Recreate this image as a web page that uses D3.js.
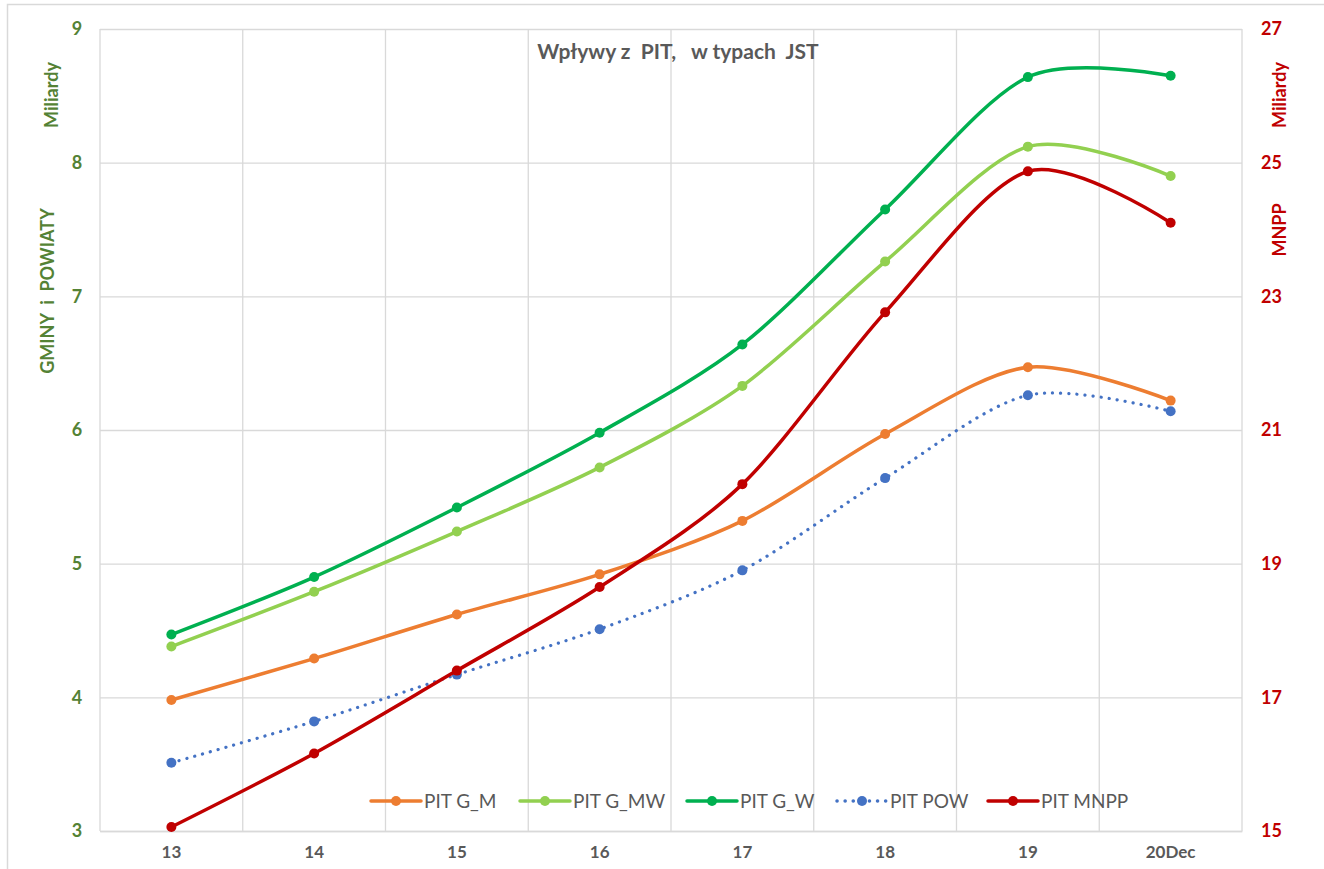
<!DOCTYPE html>
<html>
<head>
<meta charset="utf-8">
<script src="https://cdn.jsdelivr.net/npm/d3@7"></script>
<style>
  body { margin: 0; background: #fff; }
  text { font-family: Lato, "Open Sans", sans-serif; }
</style>
</head>
<body>
<script>
var width = 1324,
    height = 869;

// dane
var categories = ["13", "14", "15", "16", "17", "18", "19", "20Dec"];
var pitGM   = [3.98, 4.29, 4.62, 4.92, 5.32, 5.97, 6.47, 6.22];
var pitGMW  = [4.38, 4.79, 5.24, 5.72, 6.33, 7.26, 8.12, 7.90];
var pitGW   = [4.47, 4.90, 5.42, 5.98, 6.64, 7.65, 8.64, 8.65];
var pitPOW  = [3.51, 3.82, 4.17, 4.51, 4.95, 5.64, 6.26, 6.14];
var pitMNPP = [15.06, 16.16, 17.40, 18.65, 20.19, 22.76, 24.87, 24.10];
var leftTicks = [3, 4, 5, 6, 7, 8, 9];
var rightTicks = [15, 17, 19, 21, 23, 25, 27];

var series = [
  { name: "PIT G_M",  values: pitGM,   color: "#ED7D31", axis: "left" },
  { name: "PIT G_MW", values: pitGMW,  color: "#92D050", axis: "left" },
  { name: "PIT G_W",  values: pitGW,   color: "#00B050", axis: "left" },
  { name: "PIT POW",  values: pitPOW,  color: "#4472C4", axis: "left", dotted: true },
  { name: "PIT MNPP", values: pitMNPP, color: "#C00000", axis: "right" }
];

var plot = { left: 100, right: 1242, top: 29, bottom: 831 };

var svg = d3.select("body").append("svg")
    .attr("width", width)
    .attr("height", height);

// ramka wykresu
svg.append("rect")
    .attr("x", 7.5).attr("y", 4.5)
    .attr("width", width + 10).attr("height", height + 10)
    .attr("fill", "#fff")
    .attr("stroke", "#d9d9d9")
    .attr("stroke-width", 1.5);

var x = d3.scaleBand()
    .domain(categories)
    .range([plot.left, plot.right]);

var yL = d3.scaleLinear().domain([3, 9]).range([plot.bottom, plot.top]);
var yR = d3.scaleLinear().domain([15, 27]).range([plot.bottom, plot.top]);

// siatka pozioma
svg.append("g")
    .attr("transform", "translate(" + plot.left + ",0)")
    .call(d3.axisLeft(yL).tickValues(leftTicks).tickSize(-(plot.right - plot.left)).tickFormat(""))
    .call(function(g) { g.select(".domain").remove(); })
    .selectAll("line").attr("stroke", "#d9d9d9").attr("stroke-width", 1.3);

// siatka pionowa
var vlines = categories.map(function(c) { return x(c); }).concat([plot.right]);
svg.append("g").selectAll("line")
    .data(vlines)
  .enter().append("line")
    .attr("x1", function(d) { return d; })
    .attr("x2", function(d) { return d; })
    .attr("y1", plot.top)
    .attr("y2", plot.bottom)
    .attr("stroke", "#d9d9d9")
    .attr("stroke-width", 1.3);

// os X
var xAxis = svg.append("g")
    .attr("transform", "translate(0," + plot.bottom + ")")
    .call(d3.axisBottom(x).tickSize(0).tickPadding(15));
xAxis.select(".domain").attr("stroke", "#d9d9d9").attr("stroke-width", 1.5);
xAxis.selectAll("text")
    .attr("fill", "#595959")
    .style("font-size", "17px")
    .style("font-weight", "bold");

// os lewa
var leftAxis = svg.append("g")
    .attr("transform", "translate(" + plot.left + ",0)")
    .call(d3.axisLeft(yL).tickValues(leftTicks).tickSize(0).tickPadding(23).tickFormat(d3.format("d")));
leftAxis.select(".domain").remove();
leftAxis.selectAll("text")
    .attr("fill", "#548235")
    .style("font-size", "18px")
    .style("font-weight", "bold")
    .attr("text-anchor", "middle");

// os prawa
var rightAxis = svg.append("g")
    .attr("transform", "translate(" + plot.right + ",0)")
    .call(d3.axisRight(yR).tickValues(rightTicks).tickSize(0).tickPadding(19));
rightAxis.select(".domain").remove();
rightAxis.selectAll("text")
    .attr("fill", "#C00000")
    .style("font-size", "18px")
    .style("font-weight", "bold");

// tytuly osi
function vlabel(txt, cx, cy, col) {
  svg.append("text")
      .attr("transform", "translate(" + cx + "," + cy + ") rotate(-90)")
      .attr("text-anchor", "middle")
      .attr("dy", "0.35em")
      .attr("fill", col)
      .attr("xml:space", "preserve")
      .style("font-size", "18px")
      .style("font-weight", "bold")
      .text(txt);
}
vlabel("Miliardy", 52, 95, "#548235");
vlabel("GMINY  i  POWIATY", 48, 291, "#548235");
vlabel("Miliardy", 1280, 95, "#C00000");
vlabel("MNPP", 1280, 230, "#C00000");

// tytul
svg.append("text")
    .attr("x", 678)
    .attr("y", 52)
    .attr("text-anchor", "middle")
    .attr("dy", "0.35em")
    .attr("fill", "#595959")
    .style("font-size", "21px")
    .style("font-weight", "bold")
    .attr("xml:space", "preserve")
    .text("Wpływy z  PIT,   w typach  JST");

var cx = function(i) { return x(categories[i]) + x.bandwidth() / 2; };

// linie
series.forEach(function(s) {
  var ys = s.axis === "left" ? yL : yR;
  var line = d3.line()
      .x(function(d, i) { return cx(i); })
      .y(function(d) { return ys(d); })
      .curve(d3.curveCardinal.tension(0.1));

  svg.append("path")
      .datum(s.values)
      .attr("fill", "none")
      .attr("stroke", s.color)
      .attr("stroke-width", s.dotted ? 3.2 : 3.5)
      .attr("stroke-linecap", "round")
      .attr("stroke-dasharray", s.dotted ? "0.1,8" : null)
      .attr("d", line);

  svg.append("g").selectAll("circle")
      .data(s.values)
    .enter().append("circle")
      .attr("cx", function(d, i) { return cx(i); })
      .attr("cy", function(d) { return ys(d); })
      .attr("r", 5)
      .attr("fill", s.color);
});

// legenda
var legendX = [371, 520, 687, 837, 988];
var legend = svg.append("g").selectAll("g")
    .data(series)
  .enter().append("g")
    .attr("transform", function(d, i) { return "translate(" + legendX[i] + ",801)"; });

legend.append("line")
    .attr("x1", 0).attr("x2", 50)
    .attr("stroke", function(d) { return d.color; })
    .attr("stroke-width", 3.5)
    .attr("stroke-linecap", "round")
    .attr("stroke-dasharray", function(d) { return d.dotted ? "0.1,8" : null; });

legend.append("circle")
    .attr("cx", 25)
    .attr("r", 5)
    .attr("fill", function(d) { return d.color; });

legend.append("text")
    .attr("x", 53)
    .attr("dy", "0.35em")
    .attr("fill", "#595959")
    .style("font-size", "19px")
    .text(function(d) { return d.name; });
</script>
</body>
</html>
